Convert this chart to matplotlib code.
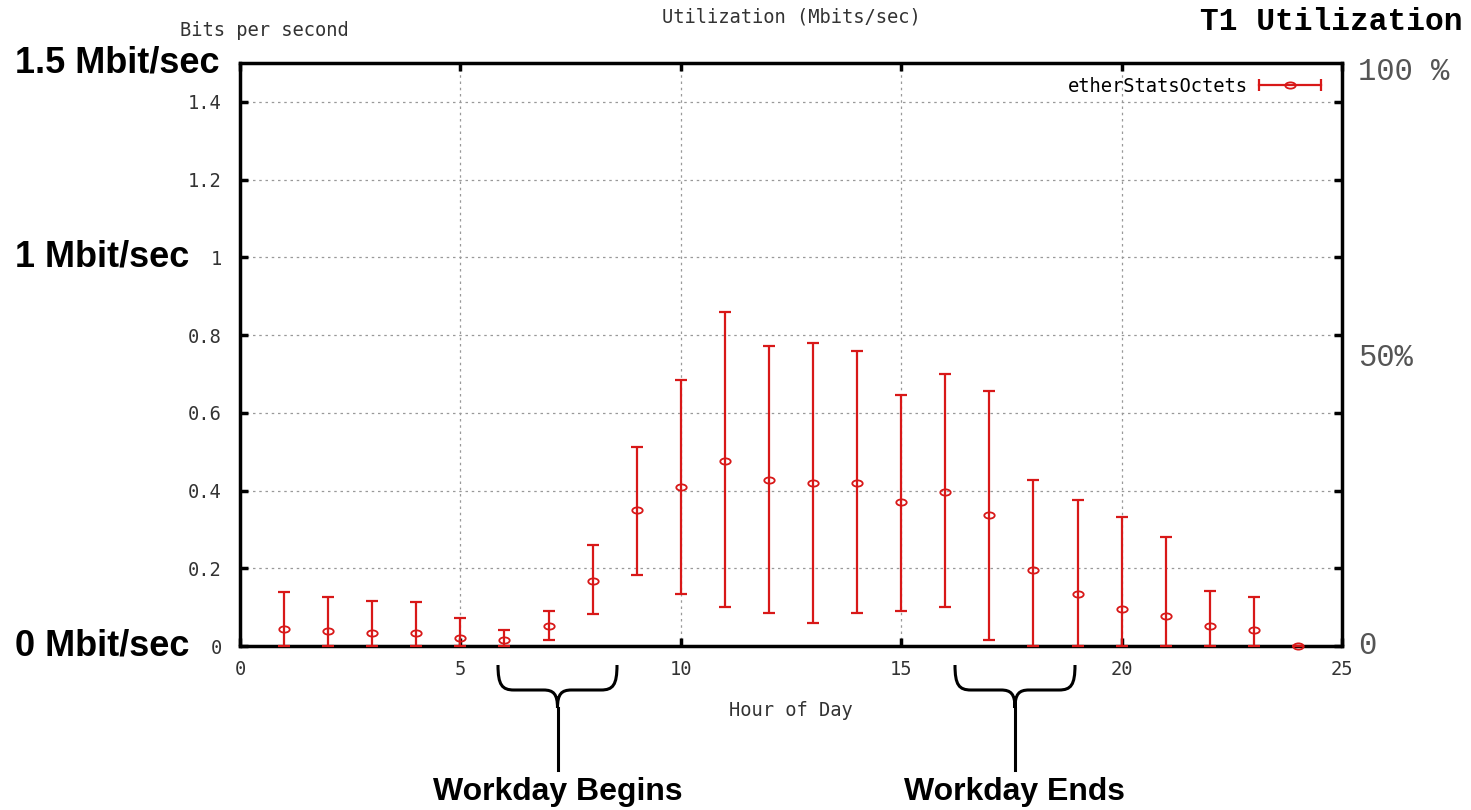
import matplotlib
matplotlib.use("Agg")
import matplotlib.pyplot as plt
from matplotlib.path import Path
from matplotlib.patches import PathPatch
from matplotlib.lines import Line2D
from matplotlib.legend_handler import HandlerBase
from matplotlib.transforms import Affine2D, blended_transform_factory

# hourly utilization (Mbit/s): mean with min / max range
hours = list(range(1, 25))
mean = [0.043, 0.039, 0.033, 0.033, 0.020, 0.015, 0.051, 0.168,
        0.350, 0.410, 0.476, 0.428, 0.420, 0.420, 0.371, 0.397,
        0.337, 0.195, 0.134, 0.094, 0.077, 0.051, 0.042, 0.000]
low = [0.0, 0.0, 0.0, 0.0, 0.0, 0.0, 0.015, 0.082,
       0.183, 0.134, 0.100, 0.086, 0.058, 0.086, 0.090, 0.100,
       0.015, 0.0, 0.0, 0.0, 0.0, 0.0, 0.0, 0.0]
high = [0.138, 0.125, 0.117, 0.112, 0.073, 0.042, 0.090, 0.261,
        0.512, 0.684, 0.859, 0.771, 0.780, 0.758, 0.647, 0.701,
        0.657, 0.428, 0.375, 0.332, 0.280, 0.142, 0.125, 0.0]

x_ticks = [0, 5, 10, 15, 20, 25]
y_ticks = [0, 0.2, 0.4, 0.6, 0.8, 1, 1.2, 1.4]
y_tick_labels = ["0", "0.2", "0.4", "0.6", "0.8", "1", "1.2", "1.4"]
left_marks = [(1.5, "1.5 Mbit/sec"), (1.0, "1 Mbit/sec"), (0.0, "0 Mbit/sec")]
right_marks = [(1.476, "100 %"), (0.74, "50%"), (0.0, "0")]

W, H = 1471, 810
fig = plt.figure(figsize=(W / 100, H / 100), dpi=100)
ax = fig.add_axes([240 / W, 1 - 646 / H, (1342 - 240) / W, (646 - 63) / H])

red = "#d81818"
mono = "DejaVu Sans Mono"
msize = 13.5
# small flat ellipse like gnuplot's point
ell = Path.unit_circle().transformed(Affine2D().scale(1.0, 0.6))

err_lo = [m - l for m, l in zip(mean, low)]
err_hi = [h - m for m, h in zip(mean, high)]
ax.errorbar(hours, mean, yerr=[err_lo, err_hi], fmt="none",
            ecolor=red, elinewidth=1.6, capsize=4, capthick=1.6,
            clip_on=False, zorder=3)
ax.plot(hours, mean, ls="none", marker=ell, ms=7.5, mfc="none", mec=red,
        mew=1.3, clip_on=False, zorder=4)

ax.set_xlim(0, 25)
ax.set_ylim(0, 1.5)
ax.set_xticks(x_ticks)
ax.set_yticks(y_ticks)
ax.set_yticklabels(y_tick_labels)
for lab in ax.get_xticklabels() + ax.get_yticklabels():
    lab.set_fontfamily(mono)
    lab.set_fontsize(msize)
    lab.set_color("#333333")
ax.tick_params(direction="in", length=6, width=2.5, top=True, right=True,
               labelright=False, labeltop=False, pad=10)
ax.tick_params(axis="y", pad=13)
for s in ax.spines.values():
    s.set_linewidth(2.5)
ax.grid(True, linestyle=(0, (2, 3)), color="#999999", linewidth=0.9)

ax.set_xlabel("Hour of Day", fontfamily=mono, fontsize=msize, color="#333333", labelpad=16)
fig.text(791 / W, 1 - 17 / H, "Utilization (Mbits/sec)", fontfamily=mono,
         fontsize=msize, color="#333333", ha="center", va="center")
fig.text(180 / W, 1 - 31 / H, "Bits per second", fontfamily=mono, fontsize=msize,
         color="#333333", va="center", ha="left")


# legend: horizontal errorbar sample
class CapLine(HandlerBase):
    def create_artists(self, legend, orig_handle, xdescent, ydescent,
                       width, height, fontsize, trans):
        y = height / 2 - ydescent
        x0, x1 = -xdescent, width - xdescent
        line = Line2D([x0, x1], [y, y], color=red, lw=1.6, transform=trans)
        caps = Line2D([x0, x1], [y, y], ls="none", marker="|", ms=8, mew=1.6,
                      color=red, transform=trans)
        dot = Line2D([(x0 + x1) / 2], [y], ls="none", marker=ell, ms=7.5, mfc="none",
                     mec=red, mew=1.3, transform=trans)
        return [line, caps, dot]


handle = Line2D([0], [0], color=red)
ax.legend([handle], ["etherStatsOctets"], loc="upper right", frameon=False,
          prop={"family": mono, "size": msize}, markerfirst=False, handlelength=3.3,
          handletextpad=0.6, bbox_to_anchor=(0.9965, 1.005),
          handler_map={Line2D: CapLine()})

# annotations
left_tr = blended_transform_factory(fig.transFigure, ax.transData)
for yv, txt in left_marks:
    ax.text(15 / W, yv, txt, transform=left_tr, fontfamily="Liberation Sans",
            fontweight="bold", fontsize=26, va="center", ha="left", clip_on=False)
for yv, txt in right_marks:
    ax.text(1.0145, yv, txt, transform=ax.get_yaxis_transform(), fontfamily="Liberation Mono",
            fontsize=22, color="#555555", va="center", ha="left", clip_on=False)
fig.text(1463 / W, 1 - 22 / H, "T1 Utilization", fontfamily="Liberation Mono",
         fontweight="bold", fontsize=22.5, va="center", ha="right")


def px(x, y):
    return (x / W, 1 - y / H)


def brace(x0, x1, label):
    xc = (x0 + x1) / 2
    y0, y1, y2 = 665, 690, 708
    pts = [(x0, y0), (x0, y0 + 20), (x0 + 4, y1), (x0 + 16, y1),
           (xc - 14, y1),
           (xc - 4, y1), (xc, y1 + 4), (xc, y2),
           (xc, y1 + 4), (xc + 4, y1), (xc + 14, y1),
           (x1 - 16, y1),
           (x1 - 4, y1), (x1, y0 + 20), (x1, y0)]
    codes = [Path.MOVETO, Path.CURVE4, Path.CURVE4, Path.CURVE4,
             Path.LINETO,
             Path.CURVE4, Path.CURVE4, Path.CURVE4,
             Path.CURVE4, Path.CURVE4, Path.CURVE4,
             Path.LINETO,
             Path.CURVE4, Path.CURVE4, Path.CURVE4]
    path = Path([px(*p) for p in pts], codes)
    fig.patches.append(PathPatch(path, fill=False, lw=2.2, color="black",
                                 transform=fig.transFigure))
    fig.lines.append(Line2D([xc / W, xc / W], [1 - y2 / H, 1 - 770 / H],
                            lw=2.2, color="black", transform=fig.transFigure))
    fig.text(xc / W, 1 - 792 / H, label, fontfamily="Liberation Sans",
             fontweight="bold", fontsize=23, ha="center", va="center")


brace(498, 617, "Workday Begins")
brace(955, 1075, "Workday Ends")

fig.savefig("out.png", dpi=100)
